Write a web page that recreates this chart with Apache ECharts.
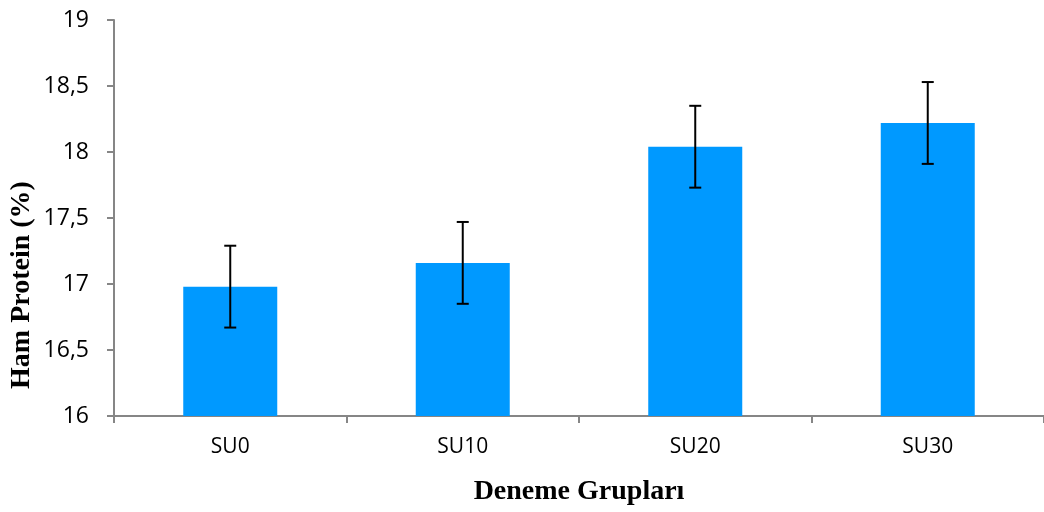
<!DOCTYPE html>
<html>
<head>
<meta charset="utf-8">
<script src="https://cdn.jsdelivr.net/npm/echarts@6/dist/echarts.min.js"></script>
<style>html,body{margin:0;padding:0;background:#fff}#c{width:1044px;height:512px}</style>
</head>
<body>
<div id="c"></div>
<script>
const categories = ['SU0', 'SU10', 'SU20', 'SU30'];
const values = [16.98, 17.16, 18.04, 18.22];
const errors = [0.31, 0.31, 0.31, 0.31];
const yTicks = { min: 16, max: 19, interval: 0.5 };

const chart = echarts.init(document.getElementById('c'));
const axisColor = '#868686';
const errData = categories.map((c, i) => [i, values[i] - errors[i], values[i] + errors[i]]);

chart.setOption({
  animation: false,
  grid: { left: 114, right: -5, top: 20, bottom: 96 },
  xAxis: {
    type: 'category',
    data: categories,
    axisLine: { lineStyle: { color: axisColor, width: 2 } },
    axisTick: { show: true, length: 7, lineStyle: { color: axisColor, width: 2 }, alignWithLabel: false },
    axisLabel: { color: '#000', fontFamily: 'Open Sans', fontSize: 21, margin: 21 },
    name: 'Deneme Grupları',
    nameLocation: 'middle',
    nameGap: 62,
    nameTextStyle: { color: '#000', fontFamily: 'Liberation Serif', fontWeight: 'bold', fontSize: 28 }
  },
  yAxis: {
    type: 'value',
    min: yTicks.min, max: yTicks.max, interval: yTicks.interval,
    splitLine: { show: false },
    axisLine: { show: true, lineStyle: { color: axisColor, width: 2 } },
    axisTick: { show: true, length: 7, lineStyle: { color: axisColor, width: 2 } },
    axisLabel: {
      color: '#000', fontFamily: 'Open Sans', fontSize: 23, margin: 25,
      formatter: v => String(v).replace('.', ',')
    }
  },
  graphic: [{
    type: 'text',
    x: 22, y: 285,
    rotation: Math.PI / 2,
    style: {
      text: 'Ham Protein (%)',
      fill: '#000',
      font: 'bold 28px "Liberation Serif"',
      textAlign: 'center',
      textVerticalAlign: 'middle'
    }
  }],
  series: [
    {
      type: 'bar',
      data: values,
      barWidth: 94,
      itemStyle: { color: '#0099FF' }
    },
    {
      type: 'custom',
      data: errData,
      z: 10,
      renderItem: function (params, api) {
        const x = api.value(0);
        const lo = api.coord([x, api.value(1)]);
        const hi = api.coord([x, api.value(2)]);
        const cap = 6;
        const style = { stroke: '#000', lineWidth: 2 };
        return {
          type: 'group',
          children: [
            { type: 'line', shape: { x1: hi[0], y1: hi[1], x2: lo[0], y2: lo[1] }, style },
            { type: 'line', shape: { x1: hi[0] - cap, y1: hi[1], x2: hi[0] + cap, y2: hi[1] }, style },
            { type: 'line', shape: { x1: lo[0] - cap, y1: lo[1], x2: lo[0] + cap, y2: lo[1] }, style }
          ]
        };
      }
    }
  ]
});
</script>
</body>
</html>
